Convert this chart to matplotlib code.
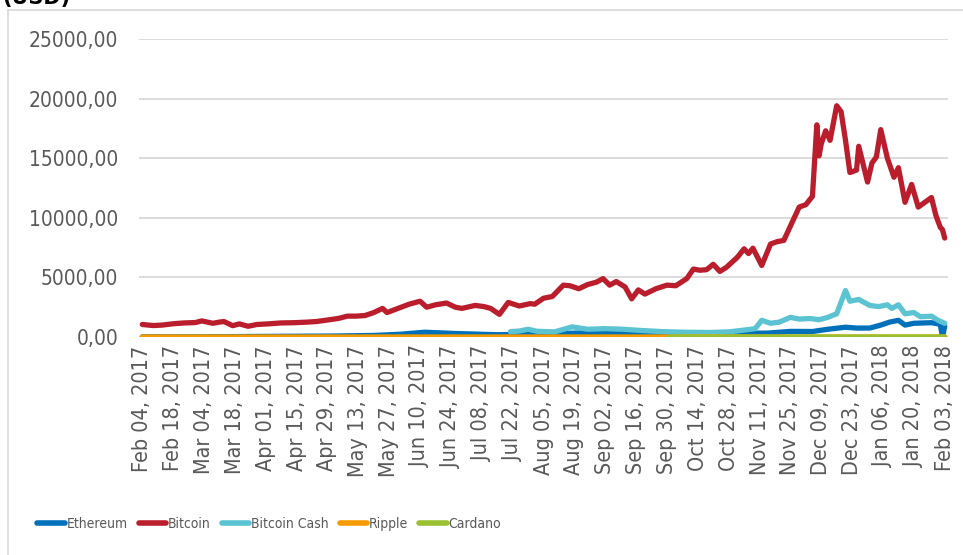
import numpy as np
import pandas as pd
import matplotlib
matplotlib.use('Agg')
import matplotlib.pyplot as plt
import matplotlib.dates as mdates
from matplotlib.lines import Line2D

# values (USD)
btc_dates = ['2017-02-04', '2017-02-09', '2017-02-13', '2017-02-18', '2017-02-23', '2017-02-28',
             '2017-03-03', '2017-03-08', '2017-03-11', '2017-03-13', '2017-03-17', '2017-03-20',
             '2017-03-24', '2017-03-28', '2017-04-02', '2017-04-08', '2017-04-14', '2017-04-20',
             '2017-04-24', '2017-04-30', '2017-05-04', '2017-05-08', '2017-05-12', '2017-05-16',
             '2017-05-20', '2017-05-24', '2017-05-26', '2017-05-31', '2017-06-05', '2017-06-10',
             '2017-06-13', '2017-06-17', '2017-06-22', '2017-06-26', '2017-06-29', '2017-07-05',
             '2017-07-09', '2017-07-12', '2017-07-16', '2017-07-20', '2017-07-25', '2017-07-30',
             '2017-08-01', '2017-08-05', '2017-08-09', '2017-08-14', '2017-08-17', '2017-08-21',
             '2017-08-25', '2017-08-29', '2017-09-01', '2017-09-04', '2017-09-07', '2017-09-11',
             '2017-09-14', '2017-09-17', '2017-09-20', '2017-09-25', '2017-09-30', '2017-10-04',
             '2017-10-09', '2017-10-12', '2017-10-15', '2017-10-18', '2017-10-21', '2017-10-24',
             '2017-10-27', '2017-11-01', '2017-11-04', '2017-11-06', '2017-11-08', '2017-11-12',
             '2017-11-16', '2017-11-19', '2017-11-22', '2017-11-26', '2017-11-29', '2017-12-02',
             '2017-12-05', '2017-12-07', '2017-12-08', '2017-12-09', '2017-12-11', '2017-12-13',
             '2017-12-16', '2017-12-18', '2017-12-20', '2017-12-22', '2017-12-25', '2017-12-26',
             '2017-12-30', '2018-01-01', '2018-01-03', '2018-01-05', '2018-01-08', '2018-01-11',
             '2018-01-13', '2018-01-16', '2018-01-19', '2018-01-22', '2018-01-25', '2018-01-28',
             '2018-01-30', '2018-02-01', '2018-02-02', '2018-02-03']
btc_vals = [1050, 960, 1000, 1110, 1180, 1210,
            1350, 1150, 1250, 1300, 950, 1100,
            900, 1050, 1100, 1180, 1200, 1250,
            1300, 1450, 1560, 1750, 1750, 1800,
            2050, 2400, 2050, 2400, 2750, 3000,
            2500, 2700, 2850, 2500, 2400, 2650,
            2550, 2400, 1900, 2900, 2600, 2800,
            2750, 3250, 3400, 4350, 4300, 4050,
            4400, 4600, 4900, 4350, 4650, 4200,
            3200, 3950, 3600, 4050, 4350, 4300,
            4900, 5700, 5600, 5650, 6100, 5500,
            5850, 6700, 7400, 7000, 7450, 6000,
            7800, 8000, 8100, 9700, 10900, 11100,
            11800, 17800, 15200, 16200, 17300, 16500,
            19400, 18900, 16500, 13800, 14000, 16000,
            13000, 14600, 15100, 17400, 15000, 13400,
            14200, 11300, 12800, 10900, 11300, 11700,
            10200, 9200, 9000, 8300]

eth_dates = ['2017-02-04', '2017-03-01', '2017-03-15', '2017-04-01', '2017-05-01', '2017-05-20',
             '2017-06-01', '2017-06-12', '2017-06-25', '2017-07-15', '2017-07-25', '2017-08-15',
             '2017-09-01', '2017-09-15', '2017-10-01', '2017-10-15', '2017-11-01', '2017-11-15',
             '2017-11-25', '2017-12-05', '2017-12-12', '2017-12-20', '2017-12-25', '2017-12-31',
             '2018-01-05', '2018-01-09', '2018-01-13', '2018-01-16', '2018-01-20', '2018-01-28',
             '2018-01-31', '2018-02-01', '2018-02-02', '2018-02-03']
eth_vals = [11, 16, 30, 50, 80, 130,
            230, 400, 300, 190, 220, 300,
            390, 250, 300, 330, 300, 330,
            470, 460, 650, 820, 750, 750,
            1000, 1250, 1400, 1000, 1150, 1200,
            1100, 1050, 0, 900]

bch_dates = ['2017-07-21', '2017-07-25', '2017-07-29', '2017-08-02', '2017-08-10', '2017-08-18',
             '2017-08-25', '2017-09-02', '2017-09-10', '2017-09-18', '2017-09-28', '2017-10-08',
             '2017-10-20', '2017-10-28', '2017-11-05', '2017-11-09', '2017-11-12', '2017-11-16',
             '2017-11-20', '2017-11-25', '2017-11-29', '2017-12-04', '2017-12-08', '2017-12-12',
             '2017-12-16', '2017-12-20', '2017-12-22', '2017-12-26', '2017-12-31', '2018-01-04',
             '2018-01-08', '2018-01-10', '2018-01-13', '2018-01-16', '2018-01-20', '2018-01-23',
             '2018-01-28', '2018-01-31', '2018-02-03']
bch_vals = [450, 500, 650, 480, 430, 850,
            650, 700, 650, 550, 450, 400,
            380, 430, 600, 700, 1400, 1150,
            1250, 1650, 1500, 1550, 1450, 1650,
            1950, 3900, 3000, 3150, 2650, 2550,
            2700, 2400, 2700, 1950, 2050, 1700,
            1750, 1400, 1150]

xrp_dates = ['2017-02-04', '2017-03-01', '2017-04-01', '2017-05-01', '2017-06-01', '2017-07-01',
             '2017-08-01', '2017-09-01', '2017-10-01', '2017-11-01', '2017-12-01', '2018-01-01',
             '2018-02-03']
xrp_vals = [0.006, 0.01, 0.03, 0.3, 0.28, 0.17, 0.22, 0.2, 0.2, 0.24, 0.9, 2.5, 0.8]

ada_dates = ['2017-10-01', '2017-11-01', '2017-12-01', '2018-01-01', '2018-02-03']
ada_vals = [0.02, 0.03, 0.4, 1.0, 0.5]

series = [
    ('Ethereum', eth_dates, eth_vals, '#0070BA'),
    ('Bitcoin', btc_dates, btc_vals, '#BA1E2C'),
    ('Bitcoin Cash', bch_dates, bch_vals, '#5BC3D1'),
    ('Ripple', xrp_dates, xrp_vals, '#F59B00'),
    ('Cardano', ada_dates, ada_vals, '#9AC131'),
]

first_day = pd.Timestamp('2017-02-04')
last_day = pd.Timestamp('2018-02-03')
tick_days = pd.date_range(first_day, last_day, freq='14D')

fig = plt.figure(figsize=(9.63, 5.55), dpi=100)
ax = fig.add_axes([139 / 963, 1 - 337 / 555, (948 - 139) / 963, (337 - 39) / 555])

for name, d, v, c in series:
    ax.plot(pd.to_datetime(d), v, color=c, lw=3.8, label=name,
            solid_capstyle='round', solid_joinstyle='round')

ax.set_xlim(first_day - pd.Timedelta(days=1.5), last_day + pd.Timedelta(days=1.5))
ax.set_ylim(0, 25000)
ax.set_yticks(np.arange(0, 25001, 5000))
ax.yaxis.set_major_formatter(plt.FuncFormatter(lambda v, p: f'{v:.2f}'.replace('.', ',')))
ax.set_xticks(tick_days)
ax.xaxis.set_major_formatter(mdates.DateFormatter('%b %d, %Y'))

ax.grid(axis='y', color='#D9D9D9', lw=1.3)
ax.set_axisbelow(True)
for s in ax.spines.values():
    s.set_visible(False)
ax.tick_params(axis='both', length=0, colors='#595959')
ax.tick_params(axis='y', labelsize=15, pad=15)
ax.tick_params(axis='x', labelsize=15.5, pad=6, labelrotation=90)
for lab in ax.get_xticklabels() + ax.get_yticklabels():
    lab.set_fontstretch('condensed')

# cropped axis title at the top left
fig.text(2 / 963, 1 - 4 / 555, '(USD)', fontsize=15, fontweight='bold', va='baseline', ha='left')

# chart area border
fig.add_artist(Line2D([8 / 963, 8 / 963], [0, 1 - 10 / 555], color='#D9D9D9', lw=1.2))
fig.add_artist(Line2D([8 / 963, 1], [1 - 10 / 555, 1 - 10 / 555], color='#D9D9D9', lw=1.2))

leg = fig.legend(loc='center', bbox_to_anchor=(269 / 963, 1 - 524 / 555), ncol=5, frameon=False,
                 fontsize=10, handlelength=2.0, handletextpad=0.1, columnspacing=0.8)
for t in leg.get_texts():
    t.set_color('#595959')
    t.set_fontstretch('condensed')
for h in leg.get_lines():
    h.set_linewidth(4)

fig.savefig('out.png', dpi=100)
